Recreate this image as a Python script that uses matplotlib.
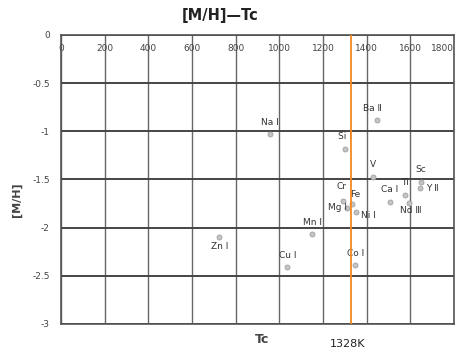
import matplotlib as mpl
mpl.use('Agg')
from matplotlib import pyplot as plt

# element condensation temperature (K) vs abundance [M/H]
elements = ['Na I', 'Ba Ⅱ', 'Si I', 'V', 'Sc', 'Y Ⅱ', 'Ti', 'Ca I', 'Nd Ⅲ',
            'Cr', 'Fe', 'Mg I', 'Ni I', 'Mn I', 'Cu I', 'Co I', 'Zn I']
tc = [955, 1449, 1302, 1429, 1649, 1645, 1575, 1506, 1595,
      1293, 1331, 1310, 1350, 1151, 1036, 1347, 725]
m_h = [-1.03, -0.885, -1.18, -1.47, -1.53, -1.59, -1.66, -1.73, -1.74,
       -1.72, -1.75, -1.80, -1.84, -2.07, -2.41, -2.39, -2.10]

tc_mark = 1328
x_ticks = [0, 200, 400, 600, 800, 1000, 1200, 1400, 1600, 1800]
y_ticks = [0, -0.5, -1, -1.5, -2, -2.5, -3]
y_ticklabels = ['0', '-0.5', '-1', '-1.5', '-2', '-2.5', '-3']

# label offsets in pixels (dx, dy) relative to each point
LABEL_OFFSETS = {
    'Na I': (0, 12), 'Ba Ⅱ': (-5, 12), 'Si I': (0, 12), 'V': (0, 12),
    'Sc': (0, 13), 'Y Ⅱ': (12, 0), 'Ti': (0, 12), 'Ca I': (0, 12),
    'Nd Ⅲ': (1, -8), 'Cr': (-2, 14), 'Fe': (4, 9), 'Mg I': (-10, 1),
    'Ni I': (13, -3), 'Mn I': (0, 12), 'Cu I': (0, 12), 'Co I': (0, 12),
    'Zn I': (0, -9),
}

plt.rcParams['font.family'] = ['DejaVu Sans', 'Noto Sans CJK JP']

fig = plt.figure(figsize=(4.62, 3.5), dpi=100, facecolor='w')
ax = fig.add_axes([0.132, 0.0743, 0.851, 0.8257])

ax.set_xlim(0, 1800)
ax.set_ylim(-3, 0)
ax.set_xticks(x_ticks)
ax.set_yticks(y_ticks)
ax.set_yticklabels(y_ticklabels)

ax.xaxis.tick_top()
ax.tick_params(axis='x', length=0, pad=-13, labelsize=6.5, colors='#444')
ax.tick_params(axis='y', length=0, pad=8, labelsize=6.5, colors='#444')
# last tick label sits at the right edge; keep it inside the figure
ax.get_xticklabels()[-1].set_horizontalalignment('right')

ax.grid(True, axis='y', color='#444', linewidth=1.4)
ax.grid(True, axis='x', color='#666', linewidth=1.0)
for sp in ax.spines.values():
    sp.set_color('#555')
    sp.set_linewidth(1.2)

ax.plot(tc, m_h, 'o', ms=3.6, color='#c4c4c4', mec='#a0a0a0', mew=0.6,
        linestyle='none', zorder=3)

for name, x, y in zip(elements, tc, m_h):
    dx, dy = LABEL_OFFSETS[name]
    ax.annotate(name, (x, y), xytext=(dx, dy), textcoords='offset pixels',
                ha='center', va='center', fontsize=6.5, color='#333',
                zorder=4)

ax.axvline(tc_mark, color='#f5891f', linewidth=1.3, zorder=5)

fig.text(0.476, 0.955, '[M/H]—Tc', ha='center', va='center',
         fontsize=10.5, fontweight='bold', color='#222')
fig.text(0.567, 0.03, 'Tc', ha='center', va='center',
         fontsize=9, fontweight='bold', color='#444')
fig.text(0.753, 0.003, '1328K', ha='center', va='bottom',
         fontsize=8, color='#222')
fig.text(0.037, 0.43, '[M/H]', ha='center', va='center', rotation=90,
         fontsize=8, fontweight='bold', color='#444')

fig.savefig('out.png', dpi=100)
